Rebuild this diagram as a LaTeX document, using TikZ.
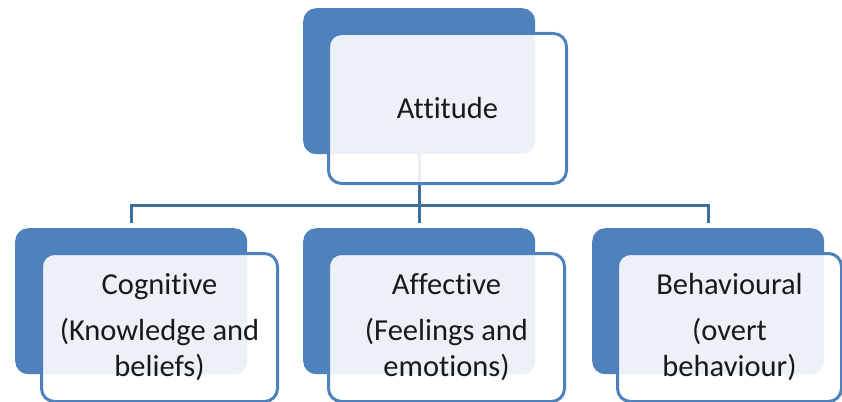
\documentclass[tikz,border=0pt]{standalone}
\usepackage{fontspec}
\setmainfont{Carlito}[Ligatures=NoCommon]
\definecolor{boxblue}{HTML}{4F81BD}
\definecolor{connblue}{HTML}{3F6D9E}
\begin{document}
\begin{tikzpicture}[x=1pt,y=-1pt,
  backbox/.style={fill=boxblue, rounded corners=13pt, minimum width=232pt, minimum height=146pt, inner sep=0pt, anchor=north west},
  frontbox/.style={draw=boxblue, line width=3pt, fill=white, fill opacity=0.89, text opacity=1, rounded corners=13pt, minimum width=236pt, minimum height=148pt, inner sep=0pt, anchor=north west, font=\fontsize{30.5}{36}\selectfont, align=center, text=black!90},
  conn/.style={draw=connblue, line width=3pt}]
\useasboundingbox (0,0) rectangle (842,401);
% back boxes
\node[backbox] (aback) at (303,8) {};
\node[backbox] (cback) at (15,228) {};
\node[backbox] (fback) at (303,228) {};
\node[backbox] (bback) at (592,228) {};
% connectors
\draw[conn] (aback.south) -- ++(0,51) coordinate (j);
\draw[conn, shorten >=5pt] (j) -| (cback.north);
\draw[conn, shorten >=5pt] (j) -| (fback.north);
\draw[conn, shorten >=5pt] (j) -| (bback.north);
% front boxes
\node[frontbox, minimum width=238pt, minimum height=150pt] (a) at (327,32) {Attitude};
\node[frontbox] (c) at (40,252) {Cognitive\\[10pt](Knowledge and\\beliefs)};
\node[frontbox] (f) at (327,252) {Affective\\[10pt](Feelings and\\emotions)};
\node[frontbox, minimum width=224pt] (b) at (616,252) {Behavioural\\[10pt](overt\\behaviour)};
\end{tikzpicture}
\end{document}
